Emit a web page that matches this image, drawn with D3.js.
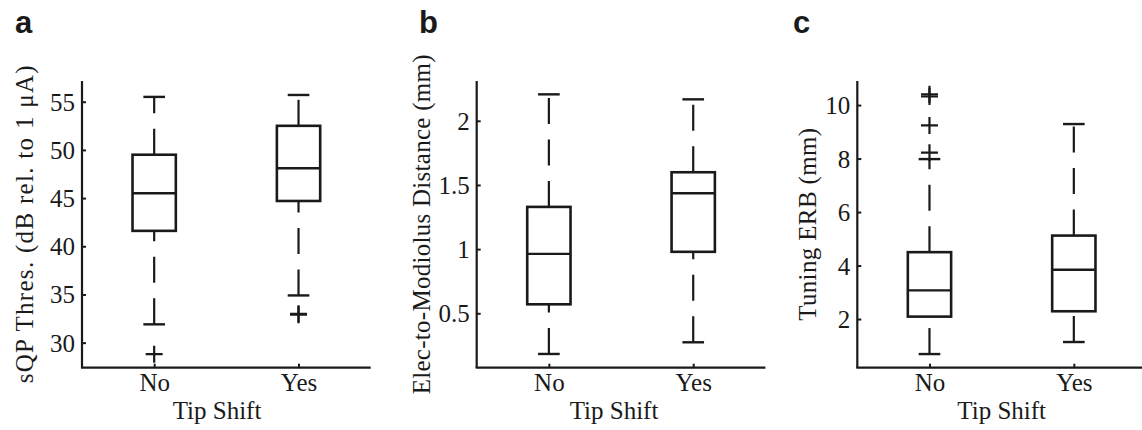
<!DOCTYPE html>
<html lang="en">
<head>
<meta charset="UTF-8">
<title>Tip Shift box plots</title>
<script src="https://d3js.org/d3.v7.min.js"></script>
<style>
body { margin: 0; background: #fff; }
svg { display: block; }
.tick-label, .axis-title { font-family: "Liberation Serif", "Times New Roman", serif; font-size: 25px; fill: #1a1a1a; }
.panel-letter { font-family: "Liberation Sans", Arial, sans-serif; font-weight: bold; font-size: 31px; fill: #1a1a1a; }
</style>
</head>
<body>
<svg width="1142" height="430"></svg>
<script>
// categories on the x axis
const categories = ["No", "Yes"];

// five-number summaries per category: [lower whisker, Q1, median, Q3, upper whisker]
const sqpStats = [[31.9, 41.6, 45.5, 49.5, 55.5], [34.9, 44.7, 48.1, 52.5, 55.7]];
const sqpOutliers = [[28.8], [32.9, 33.0]];
const sqpTicks = [30, 35, 40, 45, 50, 55];

const emdStats = [[0.183, 0.570, 0.963, 1.329, 2.206], [0.274, 0.979, 1.435, 1.599, 2.167]];
const emdOutliers = [[], []];
const emdTicks = [0.5, 1, 1.5, 2];

const erbStats = [[0.69, 2.09, 3.07, 4.50, 7.98], [1.14, 2.29, 3.84, 5.12, 9.29]];
const erbOutliers = [[10.32, 10.40, 9.24, 8.22], []];
const erbTicks = [2, 4, 6, 8, 10];

const panels = [
  { letter: "a", stats: sqpStats, outliers: sqpOutliers, ticks: sqpTicks, domain: [27.4, 57.15],
    title: "sQP Thres. (dB rel. to 1 \u03bcA)", left: 82, letterX: 15, titleOff: 49, titleLen: 318, xTitleX: 217 },
  { letter: "b", stats: emdStats, outliers: emdOutliers, ticks: emdTicks, domain: [0.076, 2.31],
    title: "Elec-to-Modiolus Distance (mm)", left: 476.7, letterX: 419, titleOff: 46.5, titleLen: 340, xTitleX: 614 },
  { letter: "c", stats: erbStats, outliers: erbOutliers, ticks: erbTicks, domain: [0.18, 10.9],
    title: "Tuning ERB (mm)", left: 857.3, letterX: 793, titleOff: 41, titleLen: 193, xTitleX: 1001.7 }
];

const svg = d3.select("svg");
const plotTop = 81, plotBottom = 367.7, plotW = 288.7;
const ink = "#1a1a1a";
const fmt = d3.format("~g");

panels.forEach(function(p) {
  const g = svg.append("g");

  const x = d3.scalePoint()
      .domain(categories)
      .range([p.left, p.left + plotW])
      .padding(0.5);
  const y = d3.scaleLinear()
      .domain(p.domain)
      .range([plotBottom, plotTop]);

  const boxW = x.step() * 0.3;
  const capW = boxW / 2;

  // panel letter
  g.append("text")
    .attr("class", "panel-letter")
    .attr("x", p.letterX)
    .attr("y", 33)
    .text(p.letter);

  // axes (inward ticks, no top/right frame)
  const yAxis = d3.axisLeft(y)
      .tickValues(p.ticks)
      .tickFormat(fmt)
      .tickSizeInner(-4)
      .tickSizeOuter(0)
      .tickPadding(7);
  const ya = g.append("g")
    .attr("transform", "translate(" + p.left + ",0)")
    .call(yAxis);
  ya.attr("font-size", null).attr("font-family", null);
  ya.select(".domain").attr("stroke", ink).attr("stroke-width", 2.2)
    .attr("d", "M0," + plotTop + "V" + plotBottom);
  ya.selectAll(".tick line").attr("stroke", ink).attr("stroke-width", 2);
  ya.selectAll(".tick text").attr("class", "tick-label").attr("dy", "0.34em");

  const xAxis = d3.axisBottom(x)
      .tickSizeInner(-4)
      .tickSizeOuter(0)
      .tickPadding(5.5);
  const xa = g.append("g")
    .attr("transform", "translate(0," + plotBottom + ")")
    .call(xAxis);
  xa.attr("font-size", null).attr("font-family", null);
  xa.select(".domain").attr("stroke", ink).attr("stroke-width", 2.2)
    .attr("d", "M" + (p.left - 1) + ",0H" + (p.left + plotW));
  xa.selectAll(".tick line").attr("stroke", ink).attr("stroke-width", 2);
  xa.selectAll(".tick text").attr("class", "tick-label");

  // axis titles
  g.append("text")
    .attr("class", "axis-title")
    .attr("text-anchor", "middle")
    .attr("x", p.xTitleX)
    .attr("y", 419)
    .text("Tip Shift");

  g.append("text")
    .attr("class", "axis-title")
    .attr("text-anchor", "middle")
    .attr("textLength", p.titleLen)
    .attr("lengthAdjust", "spacing")
    .attr("transform", "translate(" + (p.left - p.titleOff) + "," + ((plotTop + plotBottom) / 2) + ") rotate(-90)")
    .text(p.title);

  // boxes
  const box = g.selectAll(".box")
    .data(categories.map(function(c, i) { return { cat: c, s: p.stats[i], out: p.outliers[i] }; }))
    .enter().append("g")
      .attr("class", "box")
      .attr("stroke", ink)
      .attr("fill", "none");

  // whiskers, drawn bottom to top with the dashed style
  box.append("line")
    .attr("x1", function(d) { return x(d.cat); })
    .attr("x2", function(d) { return x(d.cat); })
    .attr("y1", function(d) { return y(d.s[0]); })
    .attr("y2", function(d) { return y(d.s[1]); })
    .attr("stroke-width", 2.2)
    .attr("stroke-dasharray", "26,15.5");
  box.append("line")
    .attr("x1", function(d) { return x(d.cat); })
    .attr("x2", function(d) { return x(d.cat); })
    .attr("y1", function(d) { return y(d.s[3]); })
    .attr("y2", function(d) { return y(d.s[4]); })
    .attr("stroke-width", 2.2)
    .attr("stroke-dasharray", "26,15.5");

  // whisker caps
  [0, 4].forEach(function(k) {
    box.append("line")
      .attr("x1", function(d) { return x(d.cat) - capW / 2; })
      .attr("x2", function(d) { return x(d.cat) + capW / 2; })
      .attr("y1", function(d) { return y(d.s[k]); })
      .attr("y2", function(d) { return y(d.s[k]); })
      .attr("stroke-width", 2.4);
  });

  box.append("rect")
    .attr("x", function(d) { return x(d.cat) - boxW / 2; })
    .attr("y", function(d) { return y(d.s[3]); })
    .attr("width", boxW)
    .attr("height", function(d) { return y(d.s[1]) - y(d.s[3]); })
    .attr("stroke-width", 2.6);

  box.append("line")
    .attr("x1", function(d) { return x(d.cat) - boxW / 2; })
    .attr("x2", function(d) { return x(d.cat) + boxW / 2; })
    .attr("y1", function(d) { return y(d.s[2]); })
    .attr("y2", function(d) { return y(d.s[2]); })
    .attr("stroke-width", 2.4);

  // outliers as plus signs
  box.each(function(d) {
    const sel = d3.select(this);
    d.out.forEach(function(v) {
      const cx = x(d.cat), cy = y(v), r = 8.5;
      sel.append("path")
        .attr("d", "M" + (cx - r) + "," + cy + "H" + (cx + r) + "M" + cx + "," + (cy - r) + "V" + (cy + r))
        .attr("stroke-width", 2.2);
    });
  });
});
</script>
</body>
</html>
